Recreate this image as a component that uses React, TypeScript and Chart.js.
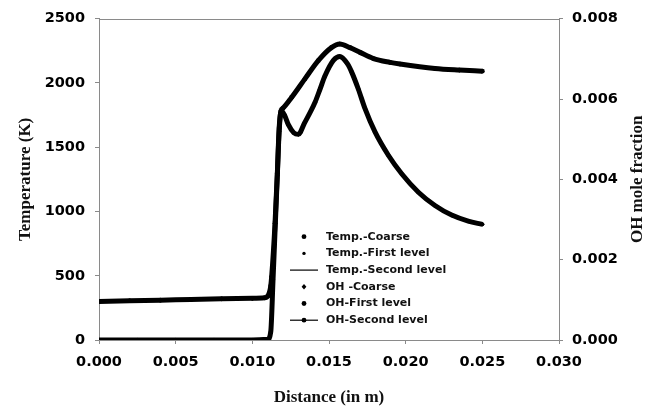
import React, { useEffect, useRef } from "react";
import { Chart, registerables } from "chart.js";

Chart.register(...registerables);

// ---- Data ----
const distanceTemp = [
  0.0, 0.002, 0.004, 0.006, 0.008, 0.01, 0.0108, 0.011, 0.0112, 0.01126, 0.01148, 0.01163, 0.01175, 0.01188,
  0.012, 0.01257, 0.01343, 0.0143, 0.01518, 0.0157, 0.01637, 0.01702, 0.0179, 0.01898, 0.01963, 0.02191, 0.0235,
  0.025,
];
const temperatureK = [
  300, 305, 310, 315, 320, 324, 328, 340, 420, 492, 908, 1297, 1650, 1786,
  1804, 1889, 2032, 2174, 2277, 2303, 2275, 2238, 2190, 2160, 2147, 2112, 2100,
  2092,
];
const distanceOH = [
  0.0, 0.0025, 0.005, 0.0075, 0.01, 0.011, 0.0112, 0.01135, 0.0115, 0.01163, 0.01175, 0.01188,
  0.0121, 0.01235, 0.0127, 0.013, 0.0134, 0.01409, 0.0144, 0.01474, 0.0153, 0.0157, 0.0162, 0.01648,
  0.01691, 0.01735, 0.018, 0.01887, 0.01974, 0.02083, 0.02191, 0.023, 0.02408, 0.025,
];
const ohFraction = [
  0, 0, 0, 0, 0, 0.00002, 0.0002, 0.0015, 0.0029, 0.0041, 0.0052, 0.0057,
  0.0056, 0.00536, 0.00516, 0.00512, 0.0054, 0.00592, 0.00623, 0.00658, 0.00697, 0.00706, 0.00688, 0.00667,
  0.00625, 0.00576, 0.00518, 0.0046, 0.00414, 0.00368, 0.00335, 0.00311, 0.00296, 0.00288,
];
const seriesLabels = [
  "Temp.-Coarse",
  "Temp.-First level",
  "Temp.-Second level",
  "OH -Coarse",
  "OH-First level",
  "OH-Second level",
];
const legendKinds = ["dot", "smalldot", "line", "diamond", "dot", "linedot"];
const xAxisTitle = "Distance (in m)";
const yLeftTitle = "Temperature (K)";
const yRightTitle = "OH mole fraction";

const tickFont = { family: "'DejaVu Sans', sans-serif", weight: "bold" as const, size: 14.5 };
const titleFamily = "'Liberation Serif', 'Times New Roman', serif";
const axisGray = "#8a8a8a";

const tempPoints = distanceTemp.map((x, i) => ({ x, y: temperatureK[i] }));
const ohPoints = distanceOH.map((x, i) => ({ x, y: ohFraction[i] }));

const framePlugin = {
  id: "frameAndLegend",
  afterDraw(chart: any) {
    const { ctx, chartArea } = chart;
    ctx.save();
    // top border of plot box
    ctx.strokeStyle = axisGray;
    ctx.lineWidth = 1;
    const ty = Math.round(chartArea.top) + 0.5;
    ctx.beginPath();
    ctx.moveTo(chartArea.left, ty);
    ctx.lineTo(chartArea.right, ty);
    ctx.stroke();

    // right axis title (reads bottom-to-top)
    ctx.fillStyle = "#111";
    ctx.font = `bold 17px ${titleFamily}`;
    ctx.textAlign = "center";
    ctx.textBaseline = "middle";
    ctx.translate(638, (chartArea.top + chartArea.bottom) / 2);
    ctx.rotate(-Math.PI / 2);
    ctx.fillText(yRightTitle, 0, 0);
    ctx.restore();

    // legend inside plot
    ctx.save();
    const x0 = chartArea.left + 205;
    const y0 = chartArea.top + 218;
    const rowH = 16.7;
    ctx.font = "bold 11px 'DejaVu Sans', sans-serif";
    ctx.textBaseline = "middle";
    ctx.textAlign = "left";
    chart.data.datasets.forEach((ds: any, i: number) => {
      const y = y0 + i * rowH;
      const kind = legendKinds[i];
      ctx.fillStyle = "#000";
      ctx.strokeStyle = "#000";
      if (kind === "line" || kind === "linedot") {
        ctx.lineWidth = 1.2;
        ctx.beginPath();
        ctx.moveTo(x0 - 14, y);
        ctx.lineTo(x0 + 14, y);
        ctx.stroke();
      }
      if (kind === "dot" || kind === "linedot") {
        ctx.beginPath();
        ctx.arc(x0, y, 2.4, 0, Math.PI * 2);
        ctx.fill();
      } else if (kind === "smalldot") {
        ctx.beginPath();
        ctx.arc(x0, y, 1.7, 0, Math.PI * 2);
        ctx.fill();
      } else if (kind === "diamond") {
        ctx.beginPath();
        ctx.moveTo(x0, y - 2.8);
        ctx.lineTo(x0 + 2.4, y);
        ctx.lineTo(x0, y + 2.8);
        ctx.lineTo(x0 - 2.4, y);
        ctx.closePath();
        ctx.fill();
      }
      ctx.fillStyle = "#111";
      ctx.fillText(ds.label, x0 + 22, y);
    });
    ctx.restore();
  },
};

export default function App() {
  const canvasRef = useRef<HTMLCanvasElement | null>(null);

  useEffect(() => {
    if (!canvasRef.current) return;
    const chart = new Chart(canvasRef.current, {
      type: "line",
      data: {
        datasets: [
          {
            label: seriesLabels[0],
            data: tempPoints,
            yAxisID: "y",
            showLine: false,
            pointStyle: "circle",
            pointRadius: 2.3,
            pointBorderWidth: 0,
            pointBackgroundColor: "#000",
            borderColor: "#000",
          },
          {
            label: seriesLabels[1],
            data: tempPoints,
            yAxisID: "y",
            showLine: false,
            pointStyle: "star",
            pointRadius: 2.2,
            pointBorderWidth: 1,
            pointBorderColor: "#000",
            borderColor: "#000",
          },
          {
            label: seriesLabels[2],
            data: tempPoints,
            yAxisID: "y",
            borderColor: "#000",
            borderWidth: 5,
            pointRadius: 0,
            cubicInterpolationMode: "monotone",
          },
          {
            label: seriesLabels[3],
            data: ohPoints,
            yAxisID: "y1",
            showLine: false,
            pointStyle: "rectRot",
            pointRadius: 2.3,
            pointBorderWidth: 0,
            pointBackgroundColor: "#000",
            borderColor: "#000",
          },
          {
            label: seriesLabels[4],
            data: ohPoints,
            yAxisID: "y1",
            showLine: false,
            pointStyle: "circle",
            pointRadius: 2,
            pointBorderWidth: 0,
            pointBackgroundColor: "#000",
            borderColor: "#000",
          },
          {
            label: seriesLabels[5],
            data: ohPoints,
            yAxisID: "y1",
            borderColor: "#000",
            borderWidth: 5,
            pointRadius: 1.5,
            pointBorderWidth: 0,
            pointBackgroundColor: "#000",
            cubicInterpolationMode: "monotone",
          },
        ],
      },
      options: {
        animation: false,
        responsive: false,
        maintainAspectRatio: false,
        layout: { padding: { top: 18, left: 0, right: 0, bottom: 0 } },
        plugins: { legend: { display: false }, tooltip: { enabled: false } },
        scales: {
          x: {
            type: "linear",
            min: 0,
            max: 0.03,
            afterFit: (s: any) => {
              s.height = 66;
            },
            ticks: {
              stepSize: 0.005,
              font: tickFont,
              color: "#000",
              padding: 10,
              maxRotation: 0,
              callback: (v: any) => Number(v).toFixed(3),
            },
            grid: { drawOnChartArea: false, drawTicks: true, tickLength: 4, color: axisGray },
            border: { display: true, color: axisGray },
            title: {
              display: true,
              text: xAxisTitle,
              font: { family: titleFamily, weight: "bold", size: 17, lineHeight: 1 },
              color: "#111",
              padding: { top: 0, bottom: 0 },
            },
          },
          y: {
            type: "linear",
            position: "left",
            min: 0,
            max: 2500,
            afterFit: (s: any) => {
              s.width = 99;
            },
            ticks: {
              stepSize: 500,
              font: tickFont,
              color: "#000",
              padding: 10,
              callback: (v: any) => String(Math.round(Number(v))),
            },
            grid: { drawOnChartArea: false, drawTicks: true, tickLength: 4, color: axisGray },
            border: { display: true, color: axisGray },
            title: {
              display: true,
              text: yLeftTitle,
              font: { family: titleFamily, weight: "bold", size: 17, lineHeight: 1.2 },
              color: "#111",
              padding: { top: 15, bottom: 0 },
            },
          },
          y1: {
            type: "linear",
            position: "right",
            min: 0,
            max: 0.008,
            afterFit: (s: any) => {
              s.width = 98;
            },
            ticks: {
              stepSize: 0.002,
              font: tickFont,
              color: "#000",
              padding: 9,
              callback: (v: any) => Number(v).toFixed(3),
            },
            grid: { drawOnChartArea: false, drawTicks: true, tickLength: 4, color: axisGray },
            border: { display: true, color: axisGray },
          },
        },
      },
      plugins: [framePlugin],
    });
    return () => chart.destroy();
  }, []);

  return (
    <div style={{ position: "absolute", left: 0, top: 0, width: 657, height: 406, background: "#fff" }}>
      <canvas ref={canvasRef} width={657} height={406} style={{ display: "block" }} />
    </div>
  );
}
